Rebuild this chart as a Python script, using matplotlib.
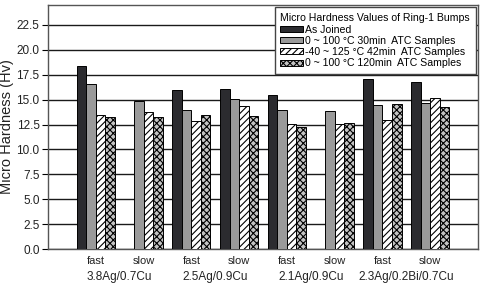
import matplotlib.pyplot as plt
import numpy as np

plt.rcParams['font.family'] = ['Liberation Sans', 'DejaVu Sans']
plt.rcParams['hatch.linewidth'] = 0.8

cooling = ['fast', 'slow', 'fast', 'slow', 'fast', 'slow', 'fast', 'slow']
alloys = ['3.8Ag/0.7Cu', '2.5Ag/0.9Cu', '2.1Ag/0.9Cu', '2.3Ag/0.2Bi/0.7Cu']

as_joined = [18.35, 0, 16.0, 16.05, 15.45, 0, 17.1, 16.8]
atc_30 = [16.6, 14.85, 13.95, 15.05, 13.95, 13.85, 14.5, 14.7]
atc_42 = [13.45, 13.75, 12.9, 14.35, 12.6, 12.6, 12.95, 15.2]
atc_120 = [13.25, 13.25, 13.45, 13.4, 12.25, 12.65, 14.6, 14.25]

series_names = ['As Joined', '0 ~ 100 \u00b0C 30min  ATC Samples',
                '-40 ~ 125 \u00b0C 42min  ATC Samples',
                '0 ~ 100 \u00b0C 120min  ATC Samples']

fig = plt.figure(figsize=(4.84, 2.86), dpi=100)
ax = fig.add_axes([48 / 484, 37 / 286, 430 / 484, 244 / 286])

x = np.arange(len(cooling))
w = 0.2
styles = [
    dict(color='#2b2b2f', hatch=None),
    dict(color='#9a9a9a', hatch=None),
    dict(color='white', hatch='/////'),
    dict(color='#c4c4c4', hatch='xxxxx'),
]
data = [as_joined, atc_30, atc_42, atc_120]
for i, (vals, st, name) in enumerate(zip(data, styles, series_names)):
    ax.bar(x + (i - 1.5) * w, vals, w, color=st['color'], hatch=st['hatch'],
           edgecolor='black', linewidth=0.7, label=name, zorder=3)

ax.set_xlim(-1.0, 8.0)
ax.set_ylim(0, 24.5)
ax.set_yticks(np.arange(0, 23, 2.5))
ax.set_yticklabels(['%.1f' % v for v in np.arange(0, 23, 2.5)], fontsize=8.5, color='#222222')
ax.yaxis.grid(True, color='#1a1a1a', linewidth=1.0, zorder=0)
ax.set_axisbelow(True)
ax.set_xticks(x)
ax.set_xticklabels(cooling, fontsize=8, color='#222222')
ax.tick_params(axis='x', length=0, pad=5)
ax.tick_params(axis='y', length=4, width=0.8, pad=2)
for k, name in enumerate(alloys):
    ax.text(2 * k + 0.5, -0.115, name, transform=ax.get_xaxis_transform(),
            ha='center', va='center', fontsize=8.5, color='#222222')
ax.set_ylabel('Micro Hardness (Hv)', fontsize=10.5, color='#222222', labelpad=2)
for s in ax.spines.values():
    s.set_color('#555555')
    s.set_linewidth(1.0)

leg = ax.legend(loc='upper right', title='Micro Hardness Values of Ring-1 Bumps',
                fontsize=7.6, title_fontsize=7.6, frameon=True, fancybox=False,
                edgecolor='#444444', framealpha=1, borderpad=0.55,
                handlelength=2.1, handleheight=0.5, handletextpad=0.25,
                labelspacing=0.12, borderaxespad=0,
                bbox_to_anchor=(0.995, 0.99))
leg._legend_box.align = 'left'
leg.get_frame().set_linewidth(1.0)
leg.set_zorder(5)

fig.savefig('out.png', dpi=100)
